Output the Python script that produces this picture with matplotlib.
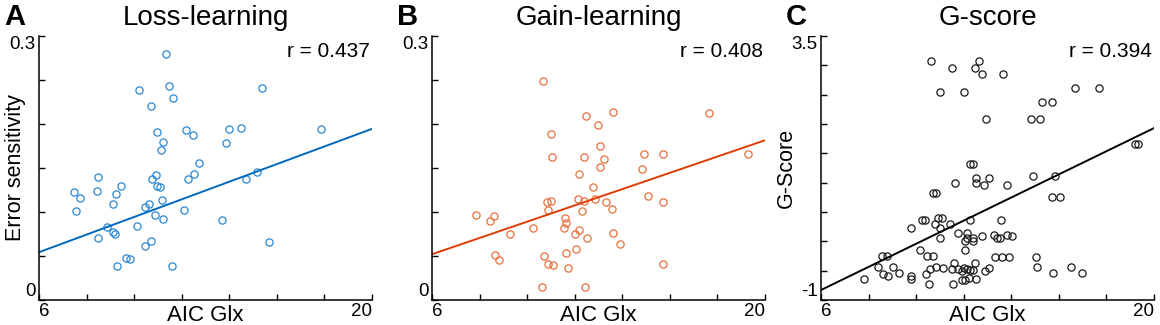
import numpy as np
import matplotlib
matplotlib.use("Agg")
import matplotlib.pyplot as plt

plt.rcParams["font.family"] = ["Liberation Sans", "DejaVu Sans"]

# ---------------------------------------------------
# data (AIC Glx vs behaviour)
# ---------------------------------------------------
loss_x = [11.34, 10.21, 11.47, 15.37, 11.65, 10.71, 10.98, 12.19, 12.49, 13.97,
          14.51, 17.84, 11.22, 11.11, 13.88, 12.73, 8.48, 10.91, 10.74, 12.27,
          12.52, 14.72, 15.17, 7.49, 7.73, 8.45, 9.46, 9.23, 10.97, 11.09,
          9.10, 11.16, 10.46, 10.61, 7.56, 10.88, 11.22, 12.10, 13.69, 8.86,
          10.11, 9.10, 9.18, 8.47, 10.71, 10.47, 15.69, 9.66, 9.82, 9.28, 11.58]
loss_y = [0.280, 0.239, 0.243, 0.241, 0.229, 0.220, 0.191, 0.193, 0.188, 0.194,
          0.195, 0.194, 0.179, 0.170, 0.178, 0.156, 0.140, 0.142, 0.138, 0.137,
          0.143, 0.138, 0.146, 0.123, 0.116, 0.124, 0.130, 0.120, 0.130, 0.128,
          0.109, 0.114, 0.106, 0.109, 0.101, 0.0965, 0.0915, 0.102, 0.0904, 0.0832,
          0.0839, 0.0771, 0.0748, 0.0706, 0.0665, 0.0608, 0.0657, 0.0479, 0.0471, 0.0384, 0.0387]

gain_x = [10.66, 12.48, 13.63, 17.66, 12.97, 11.01, 13.07, 11.03, 12.41, 13.24,
          13.08, 14.90, 15.73, 19.27, 14.83, 12.17, 12.76, 12.12, 12.40, 12.87,
          13.32, 15.10, 15.72, 10.82, 11.01, 10.86, 12.29, 13.56, 7.85, 8.60,
          8.44, 11.60, 11.63, 11.57, 10.24, 12.17, 9.30, 12.03, 13.60, 12.50,
          13.92, 12.05, 8.65, 8.83, 10.69, 11.63, 10.86, 11.10, 11.73, 15.73,
          10.63, 12.44]
gain_y = [0.249, 0.209, 0.214, 0.212, 0.199, 0.189, 0.175, 0.163, 0.163, 0.160,
          0.151, 0.166, 0.166, 0.166, 0.149, 0.143, 0.128, 0.115, 0.112, 0.115,
          0.111, 0.118, 0.111, 0.111, 0.113, 0.1025, 0.101, 0.103, 0.097, 0.096,
          0.090, 0.093, 0.087, 0.082, 0.082, 0.080, 0.075, 0.075, 0.076, 0.071,
          0.064, 0.058, 0.051, 0.046, 0.050, 0.053, 0.041, 0.040, 0.036, 0.041,
          0.0144, 0.0144]

gs_x = [10.64, 11.49, 12.47, 12.66, 12.78, 13.64, 11.00, 12.02, 16.67, 17.68,
        15.29, 15.72, 12.95, 14.84, 15.22, 19.20, 19.31, 12.26, 12.40, 12.53,
        13.06, 11.64, 12.53, 12.87, 13.82, 14.91, 15.82, 10.71, 10.83, 15.71,
        16.03, 10.25, 10.39, 10.92, 11.09, 12.28, 13.56, 10.81, 11.42, 11.00,
        9.80, 11.77, 12.15, 11.01, 12.15, 12.40, 12.77, 13.26, 13.40, 13.53,
        13.84, 14.05, 12.06, 12.37, 12.06, 10.18, 10.46, 10.70, 8.57, 8.77,
        13.32, 13.63, 13.92, 15.02, 8.39, 9.04, 10.85, 11.12, 10.60, 15.10,
        16.51, 11.60, 12.46, 11.51, 11.76, 12.00, 12.12, 12.26, 12.40, 13.06,
        12.89, 8.60, 8.83, 9.28, 9.79, 9.79, 10.42, 11.91, 11.94, 12.05,
        12.21, 12.50, 7.82, 10.54, 11.56, 15.74, 16.99]
gs_y = [3.07, 2.96, 2.96, 3.07, 2.86, 2.86, 2.55, 2.55, 2.61, 2.61,
        2.37, 2.37, 2.09, 2.08, 2.08, 1.66, 1.66, 1.32, 1.32, 1.08,
        1.08, 1.00, 1.00, 0.96, 0.96, 1.12, 1.12, 0.82, 0.82, 0.75,
        0.75, 0.37, 0.37, 0.40, 0.40, 0.36, 0.36, 0.29, 0.29, 0.22,
        0.23, 0.15, 0.15, 0.06, 0.06, 0.06, 0.09, 0.10, 0.06, 0.06,
        0.10, 0.09, 0.00, 0.00, -0.15, -0.15, -0.25, -0.25, -0.25, -0.25,
        -0.26, -0.26, -0.26, -0.26, -0.43, -0.43, -0.43, -0.46, -0.47, -0.43,
        -0.43, -0.37, -0.37, -0.47, -0.47, -0.45, -0.47, -0.49, -0.49, -0.46,
        -0.51, -0.56, -0.59, -0.54, -0.59, -0.65, -0.56, -0.51, -0.66, -0.66,
        -0.63, -0.64, -0.65, -0.72, -0.72, -0.54, -0.54]

# fitted lines, value at x = 6 and x = 20
fit_x = [6, 20]
loss_fit = [0.0543, 0.1945]
gain_fit = [0.052, 0.1815]
gs_fit = [-0.83, 1.93]

panels = [
    dict(letter="A", title="Loss-learning", x=loss_x, y=loss_y, fit=loss_fit,
         r="r = 0.437", ylim=(0, 0.3), yticks=np.arange(0, 0.301, 0.05),
         ylabels=["0", "0.3"], ylabel="Error sensitivity", ylx=-0.040,
         mc="#2a86d4", lc="#0068bf", left=39),
    dict(letter="B", title="Gain-learning", x=gain_x, y=gain_y, fit=gain_fit,
         r="r = 0.408", ylim=(0, 0.3), yticks=np.arange(0, 0.301, 0.05),
         ylabels=["0", "0.3"], ylabel=None, ylx=0,
         mc="#e8703c", lc="#de3c05", left=432),
    dict(letter="C", title="G-score", x=gs_x, y=gs_y, fit=gs_fit,
         r="r = 0.394", ylim=(-1, 3.5), yticks=np.arange(-1, 3.51, 0.5),
         ylabels=["-1", "3.5"], ylabel="G-Score", ylx=-0.072,
         mc="#1a1a1a", lc="#000000", left=821),
]

W, H = 1160, 325
fig = plt.figure(figsize=(W / 100, H / 100), dpi=100)

for p in panels:
    ax = fig.add_axes([p["left"] / W, (H - 300) / H, 333 / W, 264 / H])
    ax.plot(p["x"], p["y"], "o", ms=5.2, mfc="none", mec=p["mc"], mew=0.9)
    ax.plot(fit_x, p["fit"], "-", color=p["lc"], lw=1.4)

    ax.set_xlim(6, 20)
    ax.set_ylim(*p["ylim"])
    ax.set_xticks(np.arange(6, 21, 2))
    ax.set_xticklabels(["6"] + [""] * 6 + ["20"])
    ax.set_yticks(p["yticks"])
    yl = [""] * len(p["yticks"])
    yl[0], yl[-1] = p["ylabels"]
    ax.set_yticklabels(yl)

    for s in ["top", "right"]:
        ax.spines[s].set_visible(False)
    for s in ["left", "bottom"]:
        ax.spines[s].set_linewidth(1.1)
    ax.tick_params(direction="in", length=4, width=1.0, labelsize=13.5, pad=2.5)
    xl = ax.get_xticklabels()
    xl[0].set_ha("left")
    xl[-1].set_ha("right")
    ytl = ax.get_yticklabels()
    ytl[0].set_va("bottom")
    ytl[-1].set_va("top")

    ax.set_xlabel("AIC Glx", fontsize=16, va="top")
    ax.xaxis.set_label_coords(0.5, -0.02)
    if p["ylabel"]:
        ax.set_ylabel(p["ylabel"], fontsize=15.5)
        ax.yaxis.set_label_coords(p["ylx"], 0.5)

    ax.text(0.5, 1.04, p["title"], transform=ax.transAxes, ha="center",
            va="baseline", fontsize=20)
    ax.text(-0.105, 1.04, p["letter"], transform=ax.transAxes, ha="left",
            va="baseline", fontsize=21, fontweight="bold")
    ax.text(0.995, 0.92, p["r"], transform=ax.transAxes, ha="right",
            va="baseline", fontsize=15)

fig.savefig("out.png", dpi=100)
